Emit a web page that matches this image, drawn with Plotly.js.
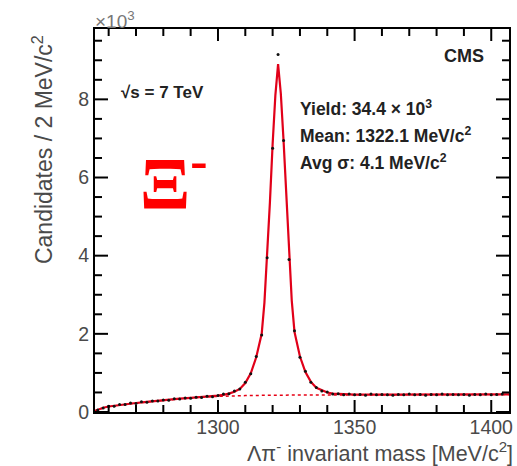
<!DOCTYPE html>
<html>
<head>
<meta charset="utf-8">
<script src="https://cdn.plot.ly/plotly-3.0.1.min.js"></script>
<style>body{margin:0}</style>
</head>
<body>
<div id="chart"></div>
<script>
// Histogram bins (bin centres, MeV/c^2) and candidates (x10^3)
const binMass = [1256,1258,1260,1262,1264,1266,1268,1270,1272,1274,1276,1278,1280,1282,1284,1286,1288,1290,1292,1294,1296,1298,1300,1302,1304,1306,1308,1310,1312,1314,1316,1318,1320,1322,1324,1326,1328,1330,1332,1334,1336,1338,1340,1342,1344,1346,1348,1350,1352,1354,1356,1358,1360,1362,1364,1366,1368,1370,1372,1374,1376,1378,1380,1382,1384,1386,1388,1390,1392,1394,1396,1398,1400,1402,1404];
const candidates = [0.05,0.10,0.15,0.15,0.19,0.19,0.23,0.22,0.26,0.25,0.28,0.28,0.31,0.30,0.34,0.33,0.36,0.35,0.38,0.37,0.40,0.39,0.42,0.46,0.47,0.54,0.59,0.76,0.98,1.42,1.97,3.95,6.75,9.15,6.95,3.90,2.08,1.40,1.04,0.76,0.63,0.54,0.51,0.46,0.47,0.44,0.46,0.44,0.45,0.43,0.46,0.44,0.45,0.44,0.43,0.45,0.44,0.46,0.44,0.45,0.43,0.45,0.44,0.46,0.44,0.45,0.44,0.45,0.43,0.45,0.44,0.46,0.44,0.45,0.46];

// Total fit curve
const fitMass = [1255,1256,1258,1260,1262,1264,1266,1268,1270,1274,1278,1282,1286,1290,1294,1298,1300,1302,1304,1306,1308,1310,1312,1314,1316,1317,1318,1319,1320,1321,1322,1323,1324,1325,1326,1327,1328,1330,1332,1334,1336,1338,1340,1342,1344,1346,1350,1360,1380,1406.5];
const fitTotal = [0.03,0.06,0.11,0.14,0.16,0.18,0.20,0.22,0.23,0.26,0.29,0.31,0.34,0.36,0.38,0.40,0.42,0.44,0.47,0.52,0.59,0.74,0.99,1.40,2.00,2.80,3.95,5.35,6.85,8.10,8.90,8.15,6.95,5.45,4.00,2.85,2.05,1.42,1.02,0.77,0.62,0.55,0.50,0.47,0.46,0.45,0.445,0.445,0.45,0.45];

// Background component of the fit
const bgMass = [1255,1256,1260,1266,1270,1276,1280,1286,1290,1296,1300,1306,1310,1320,1340,1370,1406.5];
const bgValue = [0.03,0.06,0.14,0.20,0.23,0.27,0.30,0.34,0.36,0.39,0.40,0.41,0.42,0.43,0.44,0.445,0.45];

// Axis ranges and tick positions
const xRange = [1255, 1406.5], yRange = [0, 9.8];
const xMajorTicks = [1300, 1350, 1400];
const xMinorTicks = [1260,1270,1280,1290,1310,1320,1330,1340,1360,1370,1380,1390];
const yMajorTicks = [0, 2, 4, 6, 8];
const yMinorTicks = [0.5,1,1.5,2.5,3,3.5,4.5,5,5.5,6.5,7,7.5,8.5,9,9.5];

const FONT = '"Liberation Sans", Arial, sans-serif';
const GREY = '#4a4a4a';

const W = 517, H = 466, M = {l: 95, r: 8, t: 29, b: 54};
const plotW = W - M.l - M.r, plotH = H - M.t - M.b;
// convert a tick length in pixels to data units on each axis
const xPerPx = (xRange[1] - xRange[0]) / plotW;
const yPerPx = (yRange[1] - yRange[0]) / plotH;

// inward tick marks on all four sides, drawn as one line trace on the axis scales
const tickX = [], tickY = [];
function xTick(v, px) {
  const d = px * yPerPx;
  tickX.push(v, v, null, v, v, null);
  tickY.push(yRange[0], yRange[0] + d, null, yRange[1], yRange[1] - d, null);
}
function yTick(v, px) {
  const d = px * xPerPx;
  tickX.push(xRange[0], xRange[0] + d, null, xRange[1], xRange[1] - d, null);
  tickY.push(v, v, null, v, v, null);
}
xMajorTicks.forEach(v => xTick(v, 12));
xMinorTicks.forEach(v => xTick(v, 7));
yMajorTicks.forEach(v => yTick(v, 13));
yMinorTicks.forEach(v => yTick(v, 7));

const traces = [
  {x: bgMass, y: bgValue, type: 'scatter', mode: 'lines', name: 'Background',
   line: {color: 'rgb(230,0,20)', width: 1.5, dash: 'dot'}},
  {x: fitMass, y: fitTotal, type: 'scatter', mode: 'lines', name: 'Fit',
   line: {color: 'rgb(225,0,25)', width: 2.2}},
  {x: binMass, y: candidates, type: 'scatter', mode: 'markers', name: 'Data',
   marker: {color: '#111', size: 3}},
  {x: tickX, y: tickY, type: 'scatter', mode: 'lines', name: 'ticks',
   line: {color: '#000', width: 2}, connectgaps: false, hoverinfo: 'skip'}
];

function axisBase() {
  return {
    showgrid: false, zeroline: false, showline: true, linecolor: '#000', linewidth: 2,
    mirror: true, ticks: '',
    tickfont: {family: FONT, size: 19.5, color: GREY}
  };
}

const layout = {
  width: W, height: H,
  margin: M,
  paper_bgcolor: '#fff', plot_bgcolor: '#fff',
  showlegend: false,
  xaxis: Object.assign(axisBase(), {
    range: xRange, tickmode: 'array', tickvals: xMajorTicks, ticklabelstandoff: -3
  }),
  yaxis: Object.assign(axisBase(), {
    range: yRange, tickmode: 'array', tickvals: yMajorTicks
  }),
  annotations: [
    {xref: 'paper', yref: 'paper', x: -0.005, y: 1.0, xanchor: 'left', yanchor: 'bottom', yshift: -5,
     text: '×10<sup>3</sup>', showarrow: false, font: {family: FONT, size: 19, color: '#777'}},
    {xref: 'paper', yref: 'paper', x: 0.058, y: 0.833, xanchor: 'left', yanchor: 'middle',
     text: '<b>√s = 7 TeV</b>', showarrow: false, font: {family: FONT, size: 17, color: '#222'}},
    {xref: 'paper', yref: 'paper', x: 0.945, y: 0.930, xanchor: 'right', yanchor: 'middle',
     text: '<b>CMS</b>', showarrow: false, font: {family: FONT, size: 18, color: '#222'}},
    {xref: 'paper', yref: 'paper', x: 0.49, y: 0.794, xanchor: 'left', yanchor: 'middle',
     text: '<b>Yield: 34.4 × 10<sup>3</sup></b>', showarrow: false, font: {family: FONT, size: 17.5, color: '#222'}},
    {xref: 'paper', yref: 'paper', x: 0.49, y: 0.724, xanchor: 'left', yanchor: 'middle',
     text: '<b>Mean: 1322.1 MeV/c<sup>2</sup></b>', showarrow: false, font: {family: FONT, size: 17.5, color: '#222'}},
    {xref: 'paper', yref: 'paper', x: 0.49, y: 0.653, xanchor: 'left', yanchor: 'middle',
     text: '<b>Avg σ: 4.1 MeV/c<sup>2</sup></b>', showarrow: false, font: {family: FONT, size: 17.5, color: '#222'}},
    {xref: 'paper', yref: 'paper', x: 0.105, y: 0.61, xanchor: 'left', yanchor: 'middle',
     text: '<b>Ξ<sup>-</sup></b>', showarrow: false, font: {family: '"Liberation Serif", serif', size: 74, color: '#ff0000'}},
    {xref: 'paper', yref: 'paper', x: -0.127, y: 0.685, xanchor: 'center', yanchor: 'middle', textangle: -90,
     text: 'Candidates / 2 MeV/c<sup>2</sup>', showarrow: false, font: {family: FONT, size: 23, color: GREY}},
    {xref: 'paper', yref: 'paper', x: 1.0145, y: -0.105, xanchor: 'right', yanchor: 'middle',
     text: 'Λπ<sup>-</sup> invariant mass [MeV/c<sup>2</sup>]', showarrow: false, font: {family: FONT, size: 21.5, color: GREY}}
  ]
};

Plotly.newPlot('chart', traces, layout, {displayModeBar: false, staticPlot: true});
</script>
</body>
</html>
